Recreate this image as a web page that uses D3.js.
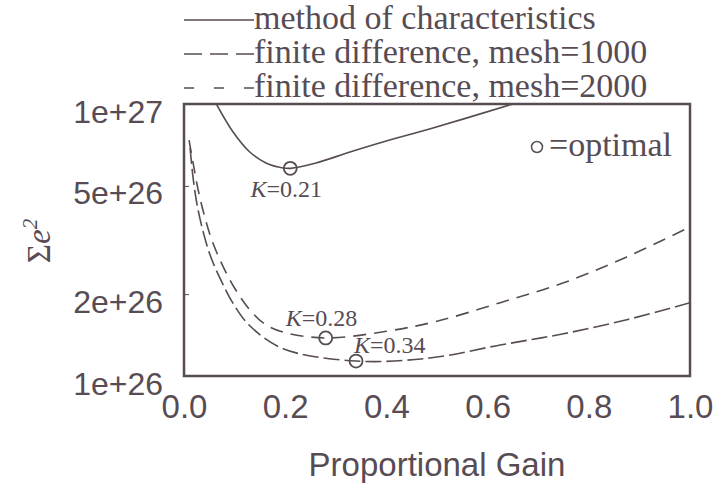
<!DOCTYPE html>
<html>
<head>
<meta charset="utf-8">
<script src="https://cdn.jsdelivr.net/npm/d3@7"></script>
<style>
  html, body { margin: 0; padding: 0; background: #fff; }
  svg { display: block; }
</style>
</head>
<body>
<svg id="chart" width="727" height="487"></svg>
<script>
// Proportional gain values and summed squared error for each solver
const mocGain  = [0.064, 0.097, 0.13, 0.162, 0.196, 0.21, 0.261, 0.328, 0.393, 0.492, 0.65];
const mocError = [1.0e27, 7.89e26, 6.66e26, 6.07e26, 5.82e26, 5.8e26, 6.07e26, 6.66e26, 7.25e26, 8.16e26, 1.0e27];

const fd1000Gain  = [0.012, 0.018, 0.026, 0.038, 0.053, 0.073, 0.097, 0.13, 0.196, 0.34, 0.486, 0.625, 0.75, 0.875, 1.0];
const fd1000Error = [6.89e26, 5.35e26, 4.25e26, 3.38e26, 2.74e26, 2.25e26, 1.85e26, 1.53e26, 1.26e26, 1.135e26, 1.165e26, 1.30e26, 1.43e26, 1.61e26, 1.86e26];

const fd2000Gain  = [0.010, 0.018, 0.028, 0.040, 0.055, 0.075, 0.099, 0.13, 0.16, 0.196, 0.28, 0.4, 0.5, 0.625, 0.75, 0.875, 1.0];
const fd2000Error = [7.37e26, 6.07e26, 4.83e26, 3.91e26, 3.16e26, 2.58e26, 2.12e26, 1.75e26, 1.55e26, 1.45e26, 1.38e26, 1.46e26, 1.59e26, 1.86e26, 2.2e26, 2.74e26, 3.53e26];

// Optimal gains marked on each curve
const optimalGain  = [0.21, 0.28, 0.34];
const optimalError = [5.8e26, 1.38e26, 1.135e26];
const optimalLabel = ["K=0.21", "K=0.28", "K=0.34"];

const legendLabels = ["method of characteristics", "finite difference, mesh=1000", "finite difference, mesh=2000"];

const xTicks = [0.0, 0.2, 0.4, 0.6, 0.8, 1.0];
const xTickLabels = ["0.0", "0.2", "0.4", "0.6", "0.8", "1.0"];
const yTicks = [1e26, 2e26, 5e26, 1e27];
const yTickLabels = ["1e+26", "2e+26", "5e+26", "1e+27"];

const ink = "#574c53";
const serif = "'Liberation Serif', 'Times New Roman', serif";
const sans = "'Liberation Sans', Arial, sans-serif";

const svg = d3.select("#chart");
const box = { left: 184, right: 690, top: 104, bottom: 376 };

const x = d3.scaleLinear().domain([0, 1]).range([box.left, box.right]);
const y = d3.scaleLog().domain([1e26, 1e27]).range([box.bottom, box.top]);

svg.append("clipPath").attr("id", "plotClip")
  .append("rect")
  .attr("x", box.left).attr("y", box.top)
  .attr("width", box.right - box.left).attr("height", box.bottom - box.top);

// curves
const line = d3.line()
  .x(d => x(d[0]))
  .y(d => y(d[1]))
  .curve(d3.curveCatmullRom.alpha(0.5));

const series = [
  { g: mocGain, e: mocError, dash: null, keyDash: null },
  { g: fd1000Gain, e: fd1000Error, dash: "16,5", keyDash: "18,8" },
  { g: fd2000Gain, e: fd2000Error, dash: "13,8", keyDash: "10,20" }
];

const curves = svg.append("g").attr("clip-path", "url(#plotClip)");
series.forEach(s => {
  curves.append("path")
    .datum(d3.zip(s.g, s.e))
    .attr("d", line)
    .attr("fill", "none")
    .attr("stroke", ink)
    .attr("stroke-width", 1.6)
    .attr("stroke-dasharray", s.dash);
});

// plot frame
svg.append("rect")
  .attr("x", box.left).attr("y", box.top)
  .attr("width", box.right - box.left).attr("height", box.bottom - box.top)
  .attr("fill", "none").attr("stroke", ink).attr("stroke-width", 2.5);

// y axis (log)
const yAxis = svg.append("g")
  .attr("transform", `translate(${box.left},0)`)
  .call(d3.axisLeft(y).tickValues(yTicks)
    .tickFormat((d, i) => yTickLabels[i])
    .tickSizeInner(-5).tickSizeOuter(0).tickPadding(21));
yAxis.select(".domain").remove();
yAxis.selectAll(".tick line").attr("stroke", ink).attr("stroke-width", 1);
yAxis.selectAll(".tick text")
  .attr("fill", ink).attr("font-family", sans).attr("font-size", 32)
  .attr("dy", 18);

// x axis
const xAxis = svg.append("g")
  .attr("transform", `translate(0,${box.bottom})`)
  .call(d3.axisBottom(x).tickValues(xTicks)
    .tickFormat((d, i) => xTickLabels[i])
    .tickSize(0).tickPadding(0));
xAxis.select(".domain").remove();
xAxis.selectAll(".tick text")
  .attr("fill", ink).attr("font-family", sans).attr("font-size", 33)
  .attr("y", 0).attr("dy", 42);

// axis titles
svg.append("text")
  .attr("x", (box.left + box.right) / 2).attr("y", 476)
  .attr("text-anchor", "middle")
  .attr("fill", ink).attr("font-family", sans).attr("font-size", 33)
  .text("Proportional Gain");

const yTitle = svg.append("text")
  .attr("transform", "translate(50,241) rotate(-90)")
  .attr("text-anchor", "middle")
  .attr("fill", ink).attr("font-family", serif).attr("font-size", 33);
yTitle.append("tspan").text("Σ");
yTitle.append("tspan").attr("font-style", "italic").text("e");
yTitle.append("tspan").attr("font-size", 21).attr("dy", -13).attr("font-style", "italic").text("2");

// optimal markers
svg.append("g").selectAll("circle")
  .data(optimalGain)
  .join("circle")
  .attr("cx", d => x(d))
  .attr("cy", (d, i) => y(optimalError[i]))
  .attr("r", 6.5)
  .attr("fill", "none").attr("stroke", ink).attr("stroke-width", 1.8);

// marker labels: offsets from each marker
const labelOffsets = [[-4, 29, "middle"], [-40, -12, "start"], [-2, -8, "start"]];
optimalLabel.forEach((lab, i) => {
  const [dx, dy, anchor] = labelOffsets[i];
  const t = svg.append("text")
    .attr("x", x(optimalGain[i]) + dx)
    .attr("y", y(optimalError[i]) + dy)
    .attr("text-anchor", anchor)
    .attr("fill", ink).attr("font-family", serif).attr("font-size", 24);
  t.append("tspan").attr("font-style", "italic").text(lab.slice(0, 1));
  t.append("tspan").text(lab.slice(1));
});

// "optimal" key inside the frame
svg.append("circle")
  .attr("cx", 537).attr("cy", 147).attr("r", 5.5)
  .attr("fill", "none").attr("stroke", ink).attr("stroke-width", 1.5);
svg.append("text")
  .attr("x", 549).attr("y", 156)
  .attr("fill", ink).attr("font-family", serif).attr("font-size", 34)
  .text("=optimal");

// legend above the frame
const legend = svg.append("g");
legendLabels.forEach((lab, i) => {
  const yy = 29 + i * 34;
  legend.append("line")
    .attr("x1", 184).attr("x2", 254)
    .attr("y1", yy - 9).attr("y2", yy - 9)
    .attr("stroke", ink).attr("stroke-width", 1.6)
    .attr("stroke-dasharray", series[i].keyDash);
  legend.append("text")
    .attr("x", 254).attr("y", yy)
    .attr("fill", ink).attr("font-family", serif).attr("font-size", 34)
    .text(lab);
});
</script>
</body>
</html>
